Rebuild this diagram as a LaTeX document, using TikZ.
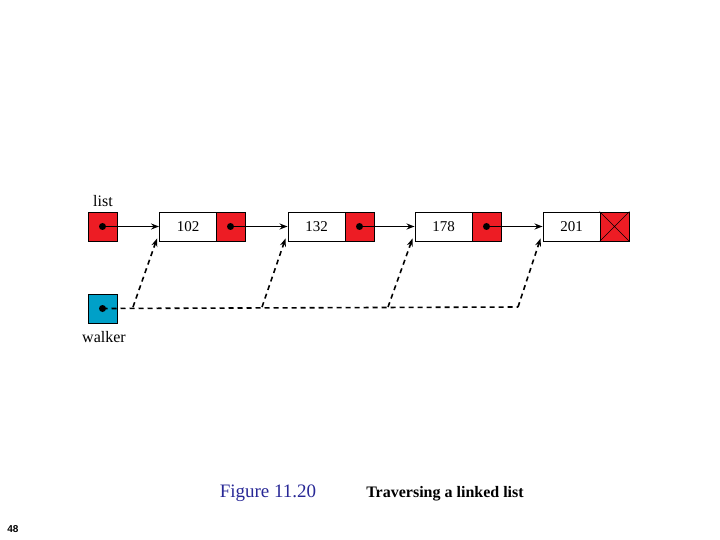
\documentclass[tikz,border=0pt]{standalone}
\usepackage{fontspec}
\setmainfont{Liberation Serif}
\newfontfamily\arialf{Liberation Sans}
\usetikzlibrary{arrows.meta}
\definecolor{lred}{RGB}{237,28,36}
\definecolor{lblue}{RGB}{0,160,200}
\definecolor{capblue}{RGB}{40,40,150}
\tikzset{
  redbox/.style={draw=black,fill=lred,minimum width=29pt,minimum height=29pt,inner sep=0pt,line width=0.9pt},
  bluebox/.style={draw=black,fill=lblue,minimum width=29pt,minimum height=29pt,inner sep=0pt,line width=0.9pt},
  databox/.style={draw=black,fill=white,minimum width=57pt,minimum height=29pt,inner sep=0pt,line width=0.9pt,font=\fontsize{15}{15}\selectfont},
  ptr/.style={-{Stealth[length=8pt,width=6pt]},line width=1.3pt},
  dptr/.style={-{Stealth[length=8pt,width=6pt]},line width=1.6pt,dash pattern=on 5pt off 4pt},
  dot/.style={circle,fill=black,inner sep=0pt,minimum size=7pt},
  lbl/.style={font=\fontsize{16}{16}\selectfont}
}
\begin{document}
\begin{tikzpicture}[x=1pt,y=-1pt]
\useasboundingbox (0,0) rectangle (720,540);
\node[redbox] (L) at (102.5,226.5) {};
\node[dot] (Ld) at (L) {};
\node[lbl] (Lt) at (103,201) {list};
\node[bluebox] (W) at (102.5,308.5) {};
\node[dot] (Wd) at (W) {};
\node[lbl] (Wt) at (104,337) {walker};
\node[databox] (d1) at (188,226.5) {102};
\node[redbox] (p1) at (230.5,226.5) {};
\node[dot] (p1d) at (p1) {};
\node[databox] (d2) at (316.5,226.5) {132};
\node[redbox] (p2) at (359.5,226.5) {};
\node[dot] (p2d) at (p2) {};
\node[databox] (d3) at (443.5,226.5) {178};
\node[redbox] (p3) at (486.5,226.5) {};
\node[dot] (p3d) at (p3) {};
\node[databox] (d4) at (571.5,226.5) {201};
\node[redbox] (p4) at (614.5,226.5) {};
\draw[line width=0.6pt] (p4.north west) -- (p4.south east) (p4.north east) -- (p4.south west);
\draw[ptr] (Ld.center) -- (d1.west);
\draw[ptr] (p1d.center) -- (d2.west);
\draw[ptr] (p2d.center) -- (d3.west);
\draw[ptr] (p3d.center) -- (d4.west);
\coordinate (c1) at (133,307);
\coordinate (c2) at (262,307);
\coordinate (c3) at (388,307);
\coordinate (c4) at (518,307);
\draw[line width=1.6pt,dash pattern=on 5pt off 4pt] (Wd.center) -- (c4);
\draw[dptr] (c1) -- ([xshift=-2pt,yshift=3pt]d1.south west);
\draw[dptr] (c2) -- ([xshift=-2pt,yshift=3pt]d2.south west);
\draw[dptr] (c3) -- ([xshift=-2pt,yshift=3pt]d3.south west);
\draw[dptr] (c4) -- ([xshift=-2pt,yshift=3pt]d4.south west);
\node[text=capblue,font=\fontsize{19}{19}\selectfont] (cap) at (268,493) {Figure 11.20};
\node[font=\fontsize{16}{16}\selectfont\bfseries] (cap2) at (445,494) {Traversing a linked list};
\node[font=\arialf\fontsize{10}{10}\selectfont\bfseries] (pg) at (13,529) {48};
\end{tikzpicture}
\end{document}
